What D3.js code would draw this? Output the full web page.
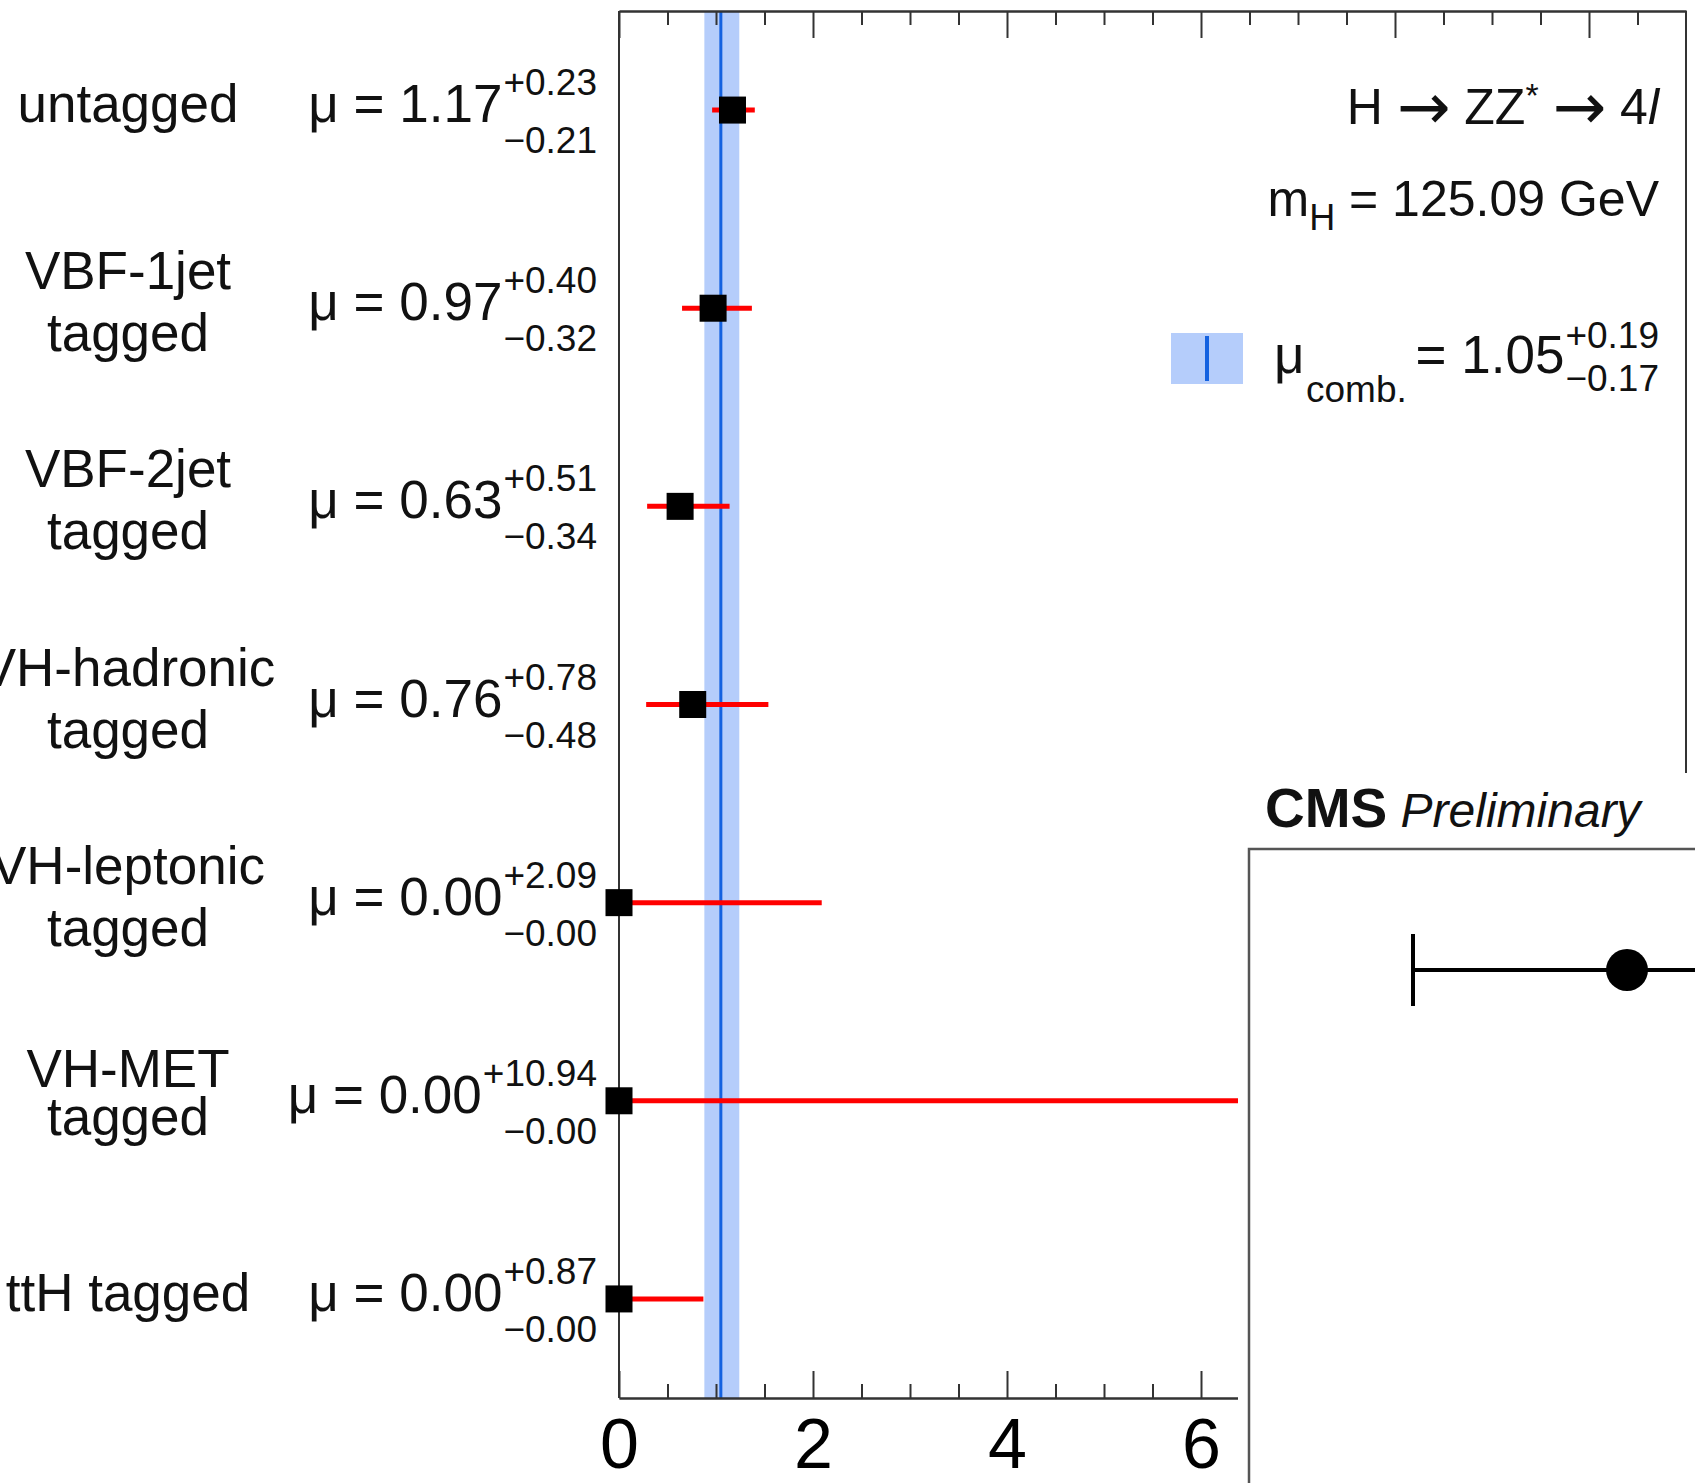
<!DOCTYPE html>
<html>
<head>
<meta charset="utf-8">
<script src="https://cdn.jsdelivr.net/npm/d3@7"></script>
<style>
  body { margin: 0; background: #fff; }
  svg { display: block; font-family: "Liberation Sans", Arial, Helvetica, sans-serif; }
</style>
</head>
<body>
<svg id="chart"></svg>
<script>
// categories, top to bottom
const categories = ["untagged", "VBF-1jet tagged", "VBF-2jet tagged", "VH-hadronic tagged",
  "VH-leptonic tagged", "VH-MET tagged", "ttH tagged"];
const labelLines = [["untagged"], ["VBF-1jet", "tagged"], ["VBF-2jet", "tagged"], ["VH-hadronic", "tagged"],
  ["VH-leptonic", "tagged"], ["VH-MET", "tagged"], ["ttH tagged"]];
const muValues = [1.17, 0.97, 0.63, 0.76, 0.00, 0.00, 0.00];
const errUp = [0.23, 0.40, 0.51, 0.78, 2.09, 10.94, 0.87];
const errDown = [0.21, 0.32, 0.34, 0.48, 0.00, 0.00, 0.00];

// combined result
const muComb = 1.05;
const combUp = 0.19;
const combDown = 0.17;

const majorTicks = [0, 2, 4, 6, 8, 10];
const minorTicks = [0.5, 1, 1.5, 2.5, 3, 3.5, 4.5, 5, 5.5, 6.5, 7, 7.5, 8.5, 9, 9.5, 10.5];
const tickLabels = ["0", "2", "4", "6", "8", "10"];

// the other plot pasted over the lower right corner
const insetMu = [1.00];
const insetErrDown = [0.50];

var width = 1695;
var height = 1483;
var svg = d3.select('#chart').attr('width', width).attr('height', height);

var x = d3.scaleLinear().domain([0, 11]).range([619, 1686]);
var y = d3.scaleBand().domain(categories).range([11, 1398]);
var yc = c => y(c) + y.bandwidth() / 2;
var yTop = y.range()[0], yBottom = y.range()[1];

// combined band + line
svg.append('rect')
  .attr('x', x(muComb - combDown)).attr('width', x(muComb + combUp) - x(muComb - combDown))
  .attr('y', yTop).attr('height', yBottom - yTop)
  .attr('fill', '#b5cdfb');
svg.append('line')
  .attr('x1', x(muComb)).attr('x2', x(muComb)).attr('y1', yTop).attr('y2', yBottom)
  .attr('stroke', '#1462e0').attr('stroke-width', 3);

// axes
function styleAxis(g) {
  g.selectAll('path.domain').attr('stroke', '#333').attr('stroke-width', 2);
  g.selectAll('.tick line').attr('stroke', '#333').attr('stroke-width', 2);
}
var bottomAxis = d3.axisBottom(x).tickValues(majorTicks).tickSizeInner(-27).tickSizeOuter(0)
  .tickPadding(20).tickFormat((d, i) => tickLabels[i]);
var gb = svg.append('g').attr('transform', 'translate(0,' + yBottom + ')').call(bottomAxis);
gb.selectAll('text').attr('font-size', 70).attr('fill', '#000').attr('font-family', null);
styleAxis(gb);
var gbm = svg.append('g').attr('transform', 'translate(0,' + yBottom + ')')
  .call(d3.axisBottom(x).tickValues(minorTicks).tickSizeInner(-14).tickSizeOuter(0).tickFormat(''));
styleAxis(gbm);

var gt = svg.append('g').attr('transform', 'translate(0,' + yTop + ')')
  .call(d3.axisTop(x).tickValues(majorTicks).tickSizeInner(-27).tickSizeOuter(0).tickFormat(''));
styleAxis(gt);
var gtm = svg.append('g').attr('transform', 'translate(0,' + yTop + ')')
  .call(d3.axisTop(x).tickValues(minorTicks).tickSizeInner(-14).tickSizeOuter(0).tickFormat(''));
styleAxis(gtm);

// left / right frame
[x.range()[0], x.range()[1]].forEach(xx => {
  svg.append('line').attr('x1', xx).attr('x2', xx).attr('y1', yTop).attr('y2', yBottom)
    .attr('stroke', '#333').attr('stroke-width', 2);
});

// error bars
svg.append('g').selectAll('line')
  .data(categories)
  .join('line')
  .attr('x1', (d, i) => x(muValues[i] - errDown[i]))
  .attr('x2', (d, i) => x(muValues[i] + errUp[i]))
  .attr('y1', d => yc(d)).attr('y2', d => yc(d))
  .attr('stroke', '#ff0000').attr('stroke-width', 5);

// markers
var ms = 27;
svg.append('g').selectAll('rect')
  .data(categories)
  .join('rect')
  .attr('x', (d, i) => x(muValues[i]) - ms / 2)
  .attr('y', d => yc(d) - ms / 2)
  .attr('width', ms).attr('height', ms)
  .attr('fill', '#000');

// category labels
categories.forEach((c, i) => {
  var lines = labelLines[i];
  var cy = yc(c);
  var t = svg.append('text').attr('text-anchor', 'middle').attr('font-size', 53).attr('fill', '#111');
  if (lines.length == 1) {
    t.append('tspan').attr('x', 128).attr('y', cy + 12).text(lines[0]);
  } else {
    var tight = lines[0] == "VH-MET";
    t.append('tspan').attr('x', 128).attr('y', cy + (tight ? -14 : -19)).text(lines[0]);
    t.append('tspan').attr('x', 128).attr('y', cy + (tight ? 34 : 43)).text(lines[1]);
  }

  // mu = value (+up, -down)
  var xr = 597;
  var sup = svg.append('text').attr('x', xr).attr('y', cy - 15).attr('text-anchor', 'end')
    .attr('font-size', 37).attr('fill', '#111').text('+' + errUp[i].toFixed(2));
  svg.append('text').attr('x', xr).attr('y', cy + 43).attr('text-anchor', 'end')
    .attr('font-size', 37).attr('fill', '#111').text('\u2212' + errDown[i].toFixed(2));
  var w = sup.node().getComputedTextLength();
  svg.append('text').attr('x', xr - w - 1).attr('y', cy + 12).attr('text-anchor', 'end')
    .attr('font-size', 53).attr('fill', '#111').text('\u03bc = ' + muValues[i].toFixed(2));
});

// top-right texts
var tr = 1659;
var t1 = svg.append('text').attr('x', tr).attr('y', 124).attr('text-anchor', 'end')
  .attr('font-size', 50).attr('fill', '#111');
t1.append('tspan').text('H ');
t1.append('tspan').attr('font-family', 'DejaVu Sans').attr('font-size', 64).attr('dy', 5).text('\u2192');
t1.append('tspan').attr('dy', -5).text(' ZZ');
t1.append('tspan').attr('font-size', 34).attr('dy', -17).text('*');
t1.append('tspan').attr('dy', 17).text(' ');
t1.append('tspan').attr('font-family', 'DejaVu Sans').attr('font-size', 64).attr('dy', 5).text('\u2192');
t1.append('tspan').attr('dy', -5).text(' 4');
t1.append('tspan').attr('font-style', 'italic').text('l');

var t2 = svg.append('text').attr('x', tr).attr('y', 216).attr('text-anchor', 'end')
  .attr('font-size', 50).attr('fill', '#111');
t2.append('tspan').text('m');
t2.append('tspan').attr('font-size', 36).attr('dy', 14).text('H');
t2.append('tspan').attr('dy', -14).text(' = 125.09 GeV');

// legend for combined
svg.append('rect').attr('x', 1171).attr('y', 333).attr('width', 72).attr('height', 51).attr('fill', '#b5cdfb');
svg.append('line').attr('x1', 1207).attr('x2', 1207).attr('y1', 336).attr('y2', 381)
  .attr('stroke', '#1462e0').attr('stroke-width', 4);
svg.append('text').attr('x', 1274).attr('y', 373).attr('font-size', 53).attr('fill', '#111').text('\u03bc');
svg.append('text').attr('x', 1306).attr('y', 402).attr('font-size', 37).attr('fill', '#111').text('comb.');
var lsup = svg.append('text').attr('x', tr).attr('y', 348).attr('text-anchor', 'end')
  .attr('font-size', 37).attr('fill', '#111').text('+' + combUp.toFixed(2));
svg.append('text').attr('x', tr).attr('y', 391).attr('text-anchor', 'end')
  .attr('font-size', 37).attr('fill', '#111').text('\u2212' + combDown.toFixed(2));
svg.append('text').attr('x', tr - lsup.node().getComputedTextLength() - 1).attr('y', 373)
  .attr('text-anchor', 'end').attr('font-size', 53).attr('fill', '#111').text('= ' + muComb.toFixed(2));

// overlay from another figure
svg.append('rect').attr('x', 1238).attr('y', 773).attr('width', width - 1238).attr('height', height - 773)
  .attr('fill', '#fff');
var cms = svg.append('text').attr('x', 1265).attr('y', 827).attr('font-size', 55).attr('fill', '#111');
cms.append('tspan').attr('font-weight', 'bold').text('CMS');
cms.append('tspan').attr('font-style', 'italic').attr('font-size', 48).text(' Preliminary');
svg.append('path').attr('d', 'M1249,' + height + 'V849H' + width)
  .attr('fill', 'none').attr('stroke', '#555').attr('stroke-width', 2.5);

var ix = d3.scaleLinear().domain([0, 2]).range([1199, 2055]);
var iy = 970;
insetMu.forEach((m, i) => {
  svg.append('line').attr('x1', ix(m - insetErrDown[i])).attr('x2', width).attr('y1', iy).attr('y2', iy)
    .attr('stroke', '#000').attr('stroke-width', 4);
  svg.append('line').attr('x1', ix(m - insetErrDown[i])).attr('x2', ix(m - insetErrDown[i]))
    .attr('y1', iy - 36).attr('y2', iy + 36).attr('stroke', '#000').attr('stroke-width', 4);
  svg.append('circle').attr('cx', ix(m)).attr('cy', iy).attr('r', 21).attr('fill', '#000');
});
</script>
</body>
</html>
